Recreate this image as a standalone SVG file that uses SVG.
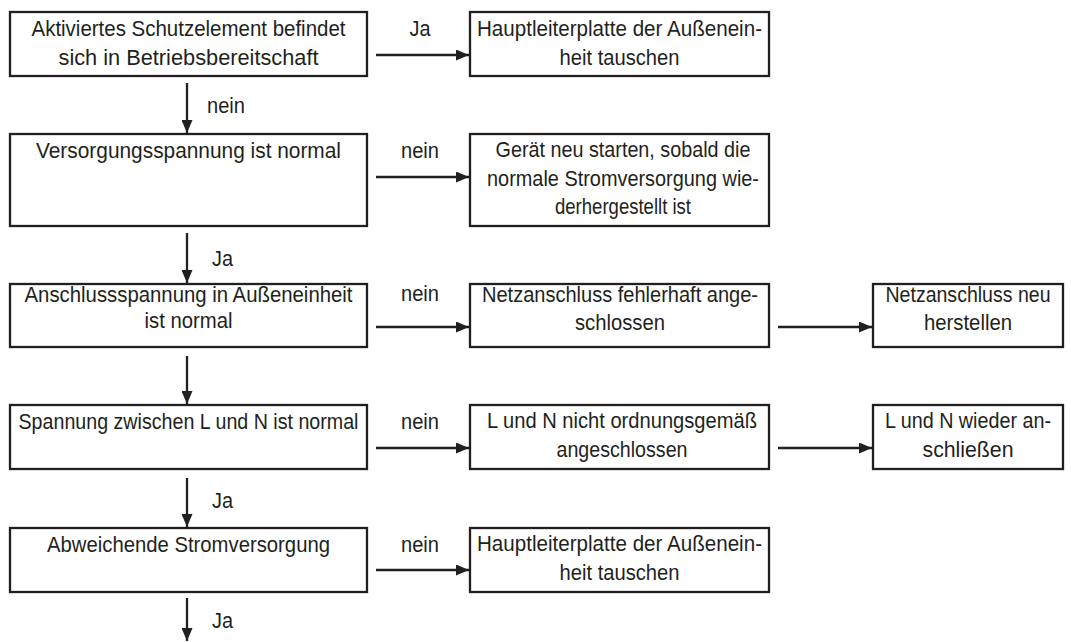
<svg xmlns="http://www.w3.org/2000/svg" width="1071" height="642" viewBox="0 0 1071 642">
<defs>
<style>
.box{fill:#fff;stroke:#231f20;stroke-width:2.3}
.t{font-family:"Liberation Sans",Arial,sans-serif;font-size:22px;fill:#231f20;text-anchor:middle}
.l{font-family:"Liberation Sans",Arial,sans-serif;font-size:22px;fill:#231f20}
.c{stroke:#231f20;stroke-width:2.3;fill:none;marker-end:url(#ah)}
</style>
<marker id="ah" markerUnits="userSpaceOnUse" markerWidth="13" markerHeight="11" refX="13" refY="5.5" orient="auto">
<path d="M0,0 L13,5.5 L0,11 z" fill="#231f20"/>
</marker>
</defs>
<rect width="1071" height="642" fill="#fff"/>
<g id="n1"><rect class="box" x="10" y="12" width="357" height="64"/>
<text class="t" x="188.5" y="36" textLength="314" lengthAdjust="spacingAndGlyphs">Aktiviertes Schutzelement befindet</text>
<text class="t" x="188.5" y="65" textLength="260" lengthAdjust="spacingAndGlyphs">sich in Betriebsbereitschaft</text></g>
<g id="n1r"><rect class="box" x="470" y="12" width="299" height="64"/>
<text class="t" x="619.5" y="36" textLength="285" lengthAdjust="spacingAndGlyphs">Hauptleiterplatte der Außenein-</text>
<text class="t" x="619.5" y="65" textLength="120" lengthAdjust="spacingAndGlyphs">heit tauschen</text></g>
<g id="n2"><rect class="box" x="10" y="134" width="357" height="92"/>
<text class="t" x="188.5" y="158" textLength="305" lengthAdjust="spacingAndGlyphs">Versorgungsspannung ist normal</text></g>
<g id="n2r"><rect class="box" x="470" y="134" width="299" height="92"/>
<text class="t" x="623" y="157" textLength="255" lengthAdjust="spacingAndGlyphs">Gerät neu starten, sobald die</text>
<text class="t" x="623" y="186" textLength="272" lengthAdjust="spacingAndGlyphs">normale Stromversorgung wie-</text>
<text class="t" x="623" y="214" textLength="136" lengthAdjust="spacingAndGlyphs">derhergestellt ist</text></g>
<g id="n3"><rect class="box" x="10" y="284" width="357" height="63"/>
<text class="t" x="188.5" y="302" textLength="328" lengthAdjust="spacingAndGlyphs">Anschlussspannung in Außeneinheit</text>
<text class="t" x="188.5" y="328" textLength="88" lengthAdjust="spacingAndGlyphs">ist normal</text></g>
<g id="n3r"><rect class="box" x="470" y="284" width="299" height="63"/>
<text class="t" x="620" y="302" textLength="276" lengthAdjust="spacingAndGlyphs">Netzanschluss fehlerhaft ange-</text>
<text class="t" x="620" y="330" textLength="90" lengthAdjust="spacingAndGlyphs">schlossen</text></g>
<g id="n3rr"><rect class="box" x="873" y="284" width="190" height="63"/>
<text class="t" x="968" y="302" textLength="165" lengthAdjust="spacingAndGlyphs">Netzanschluss neu</text>
<text class="t" x="968" y="330" textLength="88" lengthAdjust="spacingAndGlyphs">herstellen</text></g>
<g id="n4"><rect class="box" x="10" y="405" width="357" height="64"/>
<text class="t" x="188.5" y="429" textLength="340" lengthAdjust="spacingAndGlyphs">Spannung zwischen L und N ist normal</text></g>
<g id="n4r"><rect class="box" x="470" y="405" width="299" height="64"/>
<text class="t" x="622" y="428" textLength="270" lengthAdjust="spacingAndGlyphs">L und N nicht ordnungsgemäß</text>
<text class="t" x="622" y="457" textLength="131" lengthAdjust="spacingAndGlyphs">angeschlossen</text></g>
<g id="n4rr"><rect class="box" x="873" y="405" width="190" height="64"/>
<text class="t" x="968" y="428" textLength="166" lengthAdjust="spacingAndGlyphs">L und N wieder an-</text>
<text class="t" x="968" y="457" textLength="91" lengthAdjust="spacingAndGlyphs">schließen</text></g>
<g id="n5"><rect class="box" x="10" y="528" width="357" height="64"/>
<text class="t" x="188.5" y="552" textLength="283" lengthAdjust="spacingAndGlyphs">Abweichende Stromversorgung</text></g>
<g id="n5r"><rect class="box" x="470" y="528" width="299" height="64"/>
<text class="t" x="619.5" y="551" textLength="285" lengthAdjust="spacingAndGlyphs">Hauptleiterplatte der Außenein-</text>
<text class="t" x="619.5" y="580" textLength="120" lengthAdjust="spacingAndGlyphs">heit tauschen</text></g>
<g id="connectors">
<line class="c" x1="376" y1="55" x2="469" y2="55"/>
<line class="c" x1="376" y1="177" x2="469" y2="177"/>
<line class="c" x1="376" y1="327" x2="469" y2="327"/>
<line class="c" x1="778" y1="327" x2="872" y2="327"/>
<line class="c" x1="376" y1="448" x2="469" y2="448"/>
<line class="c" x1="778" y1="448" x2="872" y2="448"/>
<line class="c" x1="376" y1="570" x2="469" y2="570"/>
<line class="c" x1="187" y1="83" x2="187" y2="133"/>
<line class="c" x1="187" y1="233" x2="187" y2="283"/>
<line class="c" x1="187" y1="356" x2="187" y2="404"/>
<line class="c" x1="187" y1="478" x2="187" y2="527"/>
<line class="c" x1="187" y1="598" x2="187" y2="641"/>
<text class="t" x="420" y="36" textLength="21" lengthAdjust="spacingAndGlyphs">Ja</text>
<text class="t" x="420" y="158" textLength="38" lengthAdjust="spacingAndGlyphs">nein</text>
<text class="t" x="420" y="301" textLength="38" lengthAdjust="spacingAndGlyphs">nein</text>
<text class="t" x="420" y="429" textLength="38" lengthAdjust="spacingAndGlyphs">nein</text>
<text class="t" x="420" y="552" textLength="38" lengthAdjust="spacingAndGlyphs">nein</text>
<text class="l" x="207" y="113" textLength="38" lengthAdjust="spacingAndGlyphs">nein</text>
<text class="l" x="212" y="266" textLength="21" lengthAdjust="spacingAndGlyphs">Ja</text>
<text class="l" x="212" y="508" textLength="21" lengthAdjust="spacingAndGlyphs">Ja</text>
<text class="l" x="212" y="628" textLength="21" lengthAdjust="spacingAndGlyphs">Ja</text>
</g>
</svg>
